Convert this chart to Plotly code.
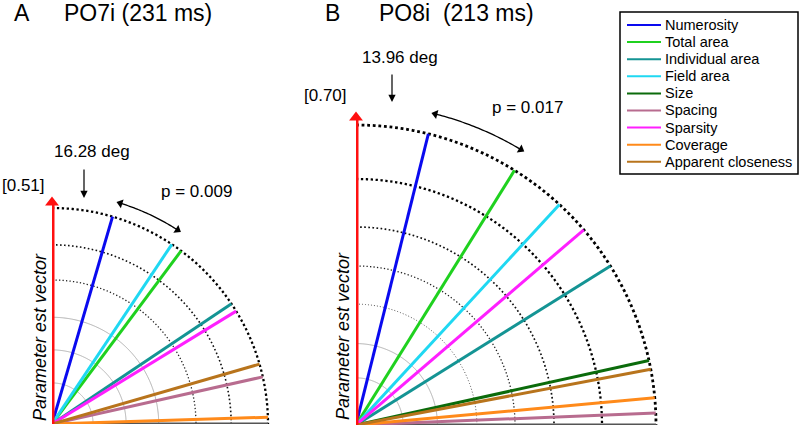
import numpy as np
import plotly.graph_objects as go

W, H = 800, 427

# feature vectors (angle from the parameter estimate vector, in degrees)
features = ["Numerosity", "Total area", "Individual area", "Field area", "Size",
            "Spacing", "Sparsity", "Coverage", "Apparent closeness"]
colors = ["#0a0aef", "#1fd11f", "#149494", "#1fd8f2", "#0b6b0b",
          "#b86c8f", "#ff1fff", "#ff8a1a", "#b8741c"]

angles_a = [16.28, 36.7, 56.2, 33.7, None, 77.4, 58.5, 88.2, 73.9]
angles_b = [13.96, 31.9, 58.0, 42.7, 77.6, 87.7, 49.4, 84.8, 79.3]

rmax_a = 0.51
rmax_b = 0.70
rings_a = [0.097, 0.175, 0.252, 0.34, 0.423, 0.51]
rings_b = [0.11, 0.19, 0.282, 0.371, 0.462, 0.574, 0.70]

# span of the curved "p =" arrow (deg)
parc_a = [17.2, 32.9]
parc_b = [14.3, 30.9]

FONT = "Liberation Sans, Arial, sans-serif"
K = 1.12  # radial headroom for the arrows above the outer ring

ring_style_a = [("#b0b0b0", 1.0, "solid")] * 3 + [
    ("#222", 1.3, "1.3px,2.2px"), ("#111", 1.6, "1.6px,2.4px"), ("#000", 2.3, "2.3px,2.6px")]
ring_style_b = [("#b0b0b0", 1.0, "solid")] * 2 + [
    ("#555", 1.0, "1px,2px"), ("#222", 1.3, "1.3px,2.2px"), ("#111", 1.7, "1.7px,2.4px"),
    ("#000", 2.3, "2.3px,2.6px"), ("#000", 2.8, "2.8px,2.8px")]

fig = go.Figure()
arc_theta = np.linspace(0, 90, 181)


def add_panel(sub, angles, rmax, rings, styles, parc):
    for r, (c, w, d) in zip(rings, styles):
        fig.add_trace(go.Scatterpolar(r=[r] * len(arc_theta), theta=arc_theta, mode="lines",
                                      line=dict(color=c, width=w, dash=d),
                                      subplot=sub, showlegend=False, hoverinfo="skip"))
    # horizontal base line (half of it is clipped at the sector edge)
    fig.add_trace(go.Scatterpolar(r=[0, rmax], theta=[90, 90], mode="lines",
                                  line=dict(color="#555", width=3),
                                  subplot=sub, showlegend=False, hoverinfo="skip"))
    for name, col, a in zip(features, colors, angles):
        if a is None:
            continue
        fig.add_trace(go.Scatterpolar(r=[0, rmax], theta=[a, a], mode="lines", name=name,
                                      line=dict(color=col, width=3),
                                      subplot=sub, showlegend=False))
    # red parameter vector with arrow head
    fig.add_trace(go.Scatterpolar(r=[0, rmax * 1.02], theta=[0, 0], mode="lines",
                                  line=dict(color="#ff1010", width=5),
                                  subplot=sub, showlegend=False, hoverinfo="skip"))
    fig.add_trace(go.Scatterpolar(r=[rmax * 1.025], theta=[0], mode="markers",
                                  marker=dict(symbol="triangle-up", size=12, color="#ff1010"),
                                  cliponaxis=False, subplot=sub, showlegend=False, hoverinfo="skip"))
    # curved double arrow along an arc just outside the outer ring
    ra = rmax * 1.07
    t = np.linspace(parc[0], parc[1], 40)
    fig.add_trace(go.Scatterpolar(r=[ra] * len(t), theta=t, mode="lines",
                                  line=dict(color="black", width=1.3),
                                  subplot=sub, showlegend=False, hoverinfo="skip"))
    # arrow heads: marker angle follows the arc tangent at each end
    fig.add_trace(go.Scatterpolar(r=[ra, ra], theta=[parc[0], parc[1]], mode="markers",
                                  marker=dict(symbol="triangle-up", size=8, color="black",
                                              angle=[parc[0] - 90, parc[1] + 90]),
                                  cliponaxis=False, subplot=sub, showlegend=False,
                                  hoverinfo="skip"))


add_panel("polar", angles_a, rmax_a, rings_a, ring_style_a, parc_a)
add_panel("polar2", angles_b, rmax_b, rings_b, ring_style_b, parc_b)


def polar_layout(x0, y0, R, rmax):
    side = R * K
    return dict(
        domain=dict(x=[x0 / W, (x0 + side) / W], y=[1 - y0 / H, 1 - (y0 - side) / H]),
        sector=[0, 90], bgcolor="rgba(0,0,0,0)",
        angularaxis=dict(rotation=90, direction="clockwise", showgrid=False, showline=False,
                         showticklabels=False, ticks=""),
        radialaxis=dict(range=[0, rmax * K], showgrid=False, showticklabels=False, ticks="",
                        showline=False),
    )


def px(x, y):
    return x / W, 1 - y / H


annotations = []
shapes = []


def text(x, y, s, size=17, xanchor="center", **kw):
    xx, yy = px(x, y)
    annotations.append(dict(x=xx, y=yy, xref="paper", yref="paper", text=s, showarrow=False,
                            xanchor=xanchor, yanchor="middle", font=dict(size=size, color="black"), **kw))


def down_arrow(x, y_tail, y_head):
    xx, yy = px(x, y_head)
    annotations.append(dict(x=xx, y=yy, xref="paper", yref="paper", text="", showarrow=True,
                            ax=0, ay=-(y_head - y_tail), arrowhead=2, arrowsize=1.2,
                            arrowwidth=1.2, arrowcolor="black"))


text(12, 13, "A", size=23, xanchor="left")
text(62, 13, "PO7i (231 ms)", size=23, xanchor="left")
text(323, 13, "B", size=23, xanchor="left")
text(377, 13, "PO8i\u00a0 (213 ms)", size=23, xanchor="left")

text(92, 152, "16.28 deg")
down_arrow(84, 168, 198)
text(23, 185, "[0.51]")
text(196, 191, "p = 0.009")
text(40, 337, "<i>Parameter est vector</i>", size=18, textangle=-90)

text(400, 57, "13.96 deg")
down_arrow(392, 73, 102)
text(325, 95, "[0.70]")
text(527, 107, "p = 0.017")
text(343, 336, "<i>Parameter est vector</i>", size=18, textangle=-90)

# legend box drawn by hand to match the tight row spacing
lx0, ly0, lx1, ly1 = 620, 12, 798, 174
x0p, y0p = px(lx0, ly0)
x1p, y1p = px(lx1, ly1)
shapes.append(dict(type="rect", xref="paper", yref="paper", x0=x0p, y0=y0p, x1=x1p, y1=y1p,
                   line=dict(color="black", width=1.5), fillcolor="white", layer="above"))
for i, (name, col) in enumerate(zip(features, colors)):
    yy = 25 + i * 17.1
    sa, sy = px(627, yy)
    sb, _ = px(661, yy)
    shapes.append(dict(type="line", xref="paper", yref="paper", x0=sa, x1=sb, y0=sy, y1=sy,
                       line=dict(color=col, width=2)))
    text(663, yy, name, size=14.5, xanchor="left")

fig.update_layout(
    width=W, height=H,
    margin=dict(l=0, r=0, t=0, b=0),
    paper_bgcolor="white",
    font=dict(family=FONT, color="black"),
    polar=polar_layout(52, 424, 216, rmax_a),
    polar2=polar_layout(356, 425, 300, rmax_b),
    annotations=annotations,
    shapes=shapes,
    showlegend=False,
)

fig.write_html("out.html", config={"displayModeBar": False},
               post_script="document.body.style.margin='0px';")
